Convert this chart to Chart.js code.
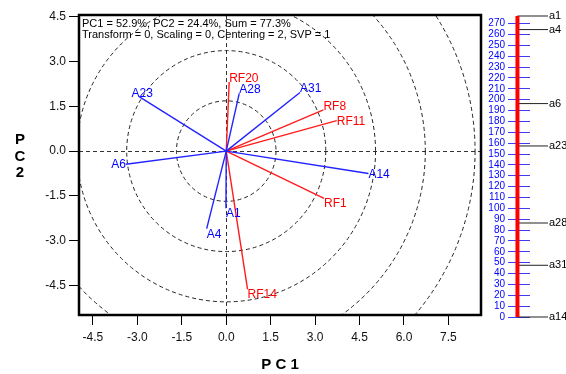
<!DOCTYPE html>
<html>
<head>
<meta charset="utf-8">
<script src="https://cdn.jsdelivr.net/npm/chart.js@4.4.0/dist/chart.umd.min.js"></script>
<style>
  html, body { margin: 0; padding: 0; background: #fff; }
  #wrap { position: relative; width: 566px; height: 374px; }
  #biplot { position: absolute; left: 0; top: 0; }
  #ruler { position: absolute; left: 483px; top: 0; }
</style>
</head>
<body>
<div id="wrap">
  <canvas id="biplot" width="566" height="374"></canvas>
  <canvas id="ruler" width="83" height="374"></canvas>
</div>
<script>
// Biplot – sample vectors (blue) and response vectors (red), end points in PC units
const aNames = ["A1", "A4", "A6", "A14", "A23", "A28", "A31"];
const aPC1 = [-0.01, -0.66, -3.39, 4.80, -2.94, 0.44, 2.49];
const aPC2 = [-1.91, -2.59, -0.44, -0.75, 1.82, 1.93, 1.96];

const rfNames = ["RF1", "RF8", "RF11", "RF14", "RF20"];
const rfPC1 = [3.30, 3.28, 3.73, 0.72, 0.10];
const rfPC2 = [-1.58, 1.38, 1.02, -4.62, 2.31];

const xTicks = [-4.5, -3.0, -1.5, 0.0, 1.5, 3.0, 4.5, 6.0, 7.5];
const yTicks = [-4.5, -3.0, -1.5, 0.0, 1.5, 3.0, 4.5];
const circleRadii = [1.68, 3.36, 5.04, 6.72, 8.40];

const infoLines = [
  "PC1 = 52.9%, PC2 = 24.4%, Sum = 77.3%",
  "Transform = 0, Scaling = 0, Centering = 2, SVP = 1"
];

// Ruler on the right
const rulerNames = ["a1", "a4", "a6", "a23", "a28", "a31", "a14"];
const rulerValues = [277, 264.5, 196.4, 157.4, 86.5, 47.6, 0];
const rulerTicks = [0, 10, 20, 30, 40, 50, 60, 70, 80, 90, 100, 110, 120, 130,
  140, 150, 160, 170, 180, 190, 200, 210, 220, 230, 240, 250, 260, 270];

const FONT = "Arial, 'Liberation Sans', sans-serif";
Chart.defaults.font.family = FONT;
const BLUE = "#2323ff";
const RED = "#ff1c1c";

const vecDataset = (name, x, y, color) => ({
  label: name,
  data: [{ x: 0, y: 0 }, { x, y }],
  borderColor: color,
  borderWidth: 1.4,
  showLine: true,
  pointRadius: 0,
  fill: false
});

// ── decorations: circles, info text, labels, frame ───────────
const biplotDecor = {
  id: "biplotDecor",
  beforeDatasetsDraw(chart) {
    const { ctx, chartArea: ca, scales: { x, y } } = chart;
    const cx = x.getPixelForValue(0), cy = y.getPixelForValue(0);
    const kx = x.getPixelForValue(1) - cx, ky = cy - y.getPixelForValue(1);
    ctx.save();
    ctx.beginPath();
    ctx.rect(ca.left, ca.top, ca.width, ca.height);
    ctx.clip();
    ctx.strokeStyle = "#222";
    ctx.lineWidth = 1;
    ctx.setLineDash([4, 3]);
    circleRadii.forEach(r => {
      ctx.beginPath();
      ctx.ellipse(cx, cy, r * kx, r * ky, 0, 0, Math.PI * 2);
      ctx.stroke();
    });
    ctx.setLineDash([]);
    ctx.fillStyle = "#000";
    ctx.font = `11px ${FONT}`;
    ctx.textAlign = "left";
    ctx.textBaseline = "alphabetic";
    infoLines.forEach((t, i) => ctx.fillText(t, ca.left + 3, ca.top + 11.5 + i * 11.2));
    ctx.restore();
  },
  afterDatasetsDraw(chart) {
    const { ctx, scales: { x, y } } = chart;
    const cx = x.getPixelForValue(0), cy = y.getPixelForValue(0);
    const put = (name, vx, vy, color) => {
      const px = x.getPixelForValue(vx), py = y.getPixelForValue(vy);
      const dx = px - cx, dy = py - cy;
      const len = Math.hypot(dx, dy) || 1;
      const ux = dx / len, uy = dy / len;
      ctx.textAlign = ux < -0.9 ? "right" : ux < -0.3 ? "center" : "left";
      const base = uy < -0.3 ? py : uy > 0.3 ? py + 9 : py + 4;
      ctx.fillStyle = color;
      ctx.fillText(name, px + (ux < -0.9 ? 0 : ux < -0.3 ? 3 : 0), base);
    };
    ctx.save();
    ctx.font = `12px ${FONT}`;
    ctx.textBaseline = "alphabetic";
    aNames.forEach((n, i) => put(n, aPC1[i], aPC2[i], "#0000ff"));
    rfNames.forEach((n, i) => put(n, rfPC1[i], rfPC2[i], "#ff0000"));
    ctx.restore();
  },
  afterDraw(chart) {
    const { ctx, chartArea: ca } = chart;
    ctx.save();
    ctx.strokeStyle = "#000";
    ctx.lineWidth = 2.5;
    ctx.strokeRect(ca.left, ca.top, ca.width, ca.height);
    // stacked y title
    ctx.fillStyle = "#000";
    ctx.font = `bold 15px ${FONT}`;
    ctx.textAlign = "center";
    ctx.textBaseline = "middle";
    ["P", "C", "2"].forEach((ch, i) => ctx.fillText(ch, 20, 140 + i * 16.5));
    ctx.restore();
  }
};

new Chart(document.getElementById("biplot"), {
  type: "scatter",
  data: {
    datasets: [
      ...aNames.map((n, i) => vecDataset(n, aPC1[i], aPC2[i], BLUE)),
      ...rfNames.map((n, i) => vecDataset(n, rfPC1[i], rfPC2[i], RED))
    ]
  },
  options: {
    responsive: false,
    animation: false,
    layout: { padding: { top: 15, right: 85, bottom: 0, left: 0 } },
    plugins: { legend: { display: false }, tooltip: { enabled: false } },
    scales: {
      x: {
        type: "linear", min: -4.97, max: 8.6,
        afterBuildTicks: s => { s.ticks = xTicks.map(v => ({ value: v })); },
        afterFit: s => { s.height = 59; },
        ticks: { color: "#111", font: { size: 12 }, padding: 5, autoSkip: false, maxRotation: 0,
                 callback: v => v.toFixed(1) },
        grid: { color: c => (c.tick && c.tick.value === 0 ? "#333" : "rgba(0,0,0,0)"),
                tickColor: "#000", tickLength: 10 },
        border: { display: false, dash: [4, 3] },
        title: { display: true, text: "P C 1", color: "#000", font: { size: 15, weight: "bold" },
                 padding: { top: 0, bottom: 0 } }
      },
      y: {
        type: "linear", min: -5.48, max: 4.55,
        afterBuildTicks: s => { s.ticks = yTicks.map(v => ({ value: v })); },
        afterFit: s => { s.width = 79; },
        ticks: { color: "#111", font: { size: 12 }, padding: 3, autoSkip: false,
                 callback: v => v.toFixed(1) },
        grid: { color: c => (c.tick && c.tick.value === 0 ? "#333" : "rgba(0,0,0,0)"),
                tickColor: "#000", tickLength: 10 },
        border: { display: false, dash: [4, 3] }
      }
    }
  },
  plugins: [biplotDecor]
});

// ── ruler with labelled markers ─────────────────────────────
const rulerLabels = {
  id: "rulerLabels",
  afterDatasetsDraw(chart) {
    const { ctx, scales: { x, y } } = chart;
    ctx.save();
    ctx.fillStyle = "#000";
    ctx.font = `11px ${FONT}`;
    ctx.textAlign = "left";
    ctx.textBaseline = "middle";
    rulerNames.forEach((n, i) => ctx.fillText(n, x.getPixelForValue(1.86), y.getPixelForValue(rulerValues[i])));
    ctx.restore();
  }
};

new Chart(document.getElementById("ruler"), {
  type: "scatter",
  data: {
    datasets: [
      { data: [{ x: 0.43, y: 0 }, { x: 0.43, y: 277 }], borderColor: "#ff0000", borderWidth: 4,
        showLine: true, pointRadius: 0, borderCapStyle: "butt" },
      ...rulerNames.map((n, i) => ({
        label: n,
        data: [{ x: 0.43, y: rulerValues[i] }, { x: 1.82, y: rulerValues[i] }],
        borderColor: "#222", borderWidth: 1, showLine: true, pointRadius: 0, clip: false
      }))
    ]
  },
  options: {
    responsive: false,
    animation: false,
    layout: { padding: { top: 16, right: 36, bottom: 57, left: 0 } },
    plugins: { legend: { display: false }, tooltip: { enabled: false } },
    scales: {
      x: { type: "linear", display: false, min: 0, max: 1 },
      y: {
        type: "linear", min: 0, max: 277,
        afterBuildTicks: s => { s.ticks = rulerTicks.map(v => ({ value: v })); },
        afterFit: s => { s.width = 25; },
        ticks: { color: "#0000ff", font: { size: 10 }, padding: 3, autoSkip: false },
        grid: { color: "#3c3cff", drawTicks: false },
        border: { display: false }
      }
    }
  },
  plugins: [rulerLabels]
});
</script>
</body>
</html>
